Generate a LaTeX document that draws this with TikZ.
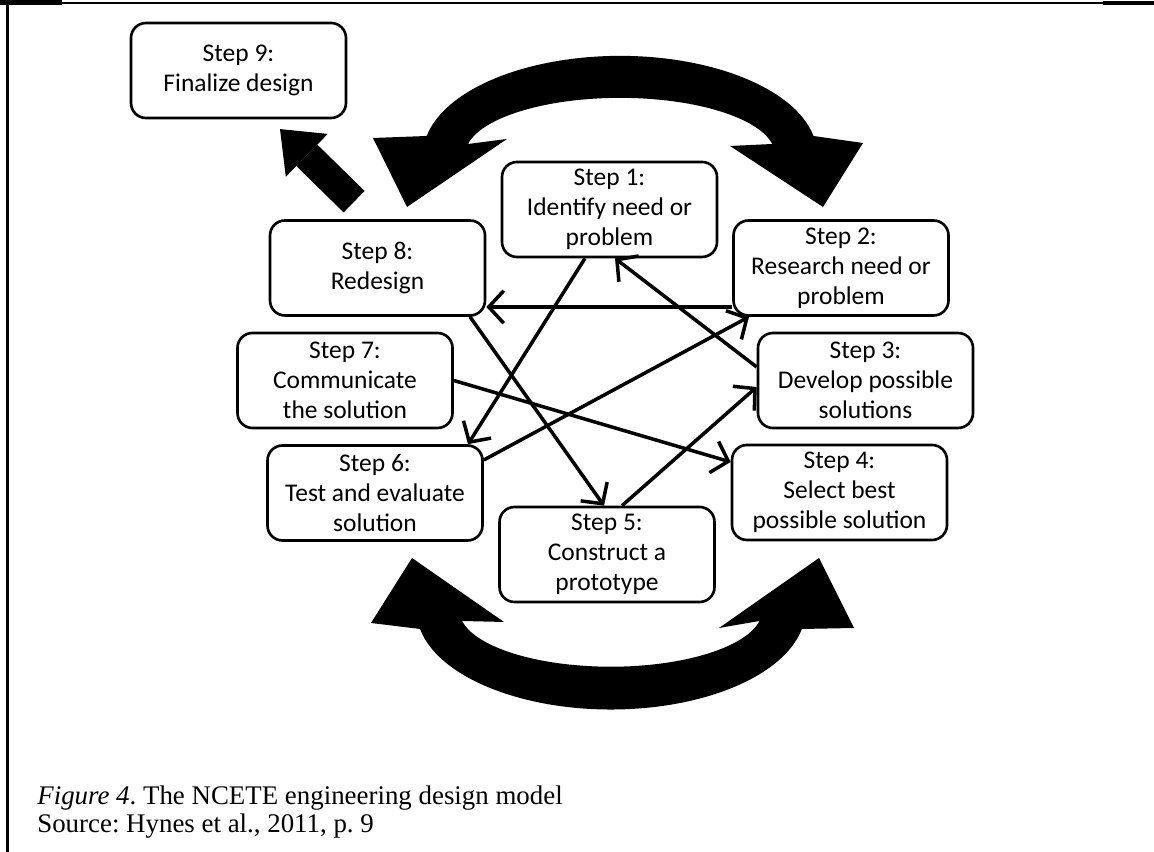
\documentclass[tikz,border=0pt]{standalone}
\usepackage{fontspec}
\setmainfont{Carlito}
\newfontfamily\capfont{Liberation Serif}
\usepackage{tikz}
\usetikzlibrary{arrows.meta}
\frenchspacing
\tikzstyle{stepbox}=[rectangle, draw=black, line width=1.5pt, rounded corners=0.3cm, fill=white,
minimum width=4.3cm, minimum height=1.9cm, inner sep=0pt, align=center,
font=\fontsize{14.5}{17}\selectfont]
\tikzstyle{link}=[line width=2pt, -{Straight Barb[length=3mm,width=6.5mm]}]
\tikzstyle{bigarrow}=[line width=0.6cm, -{Triangle[length=0.75cm,width=1.2cm,line width=0pt]}]
\tikzstyle{bandarrow}=[fill=black]

\begin{document}
\begin{tikzpicture}
            \useasboundingbox (0,0) rectangle (23.08,17.04);
            % page frame
            \draw[line width=0.9pt] (0,16.98) -- (23.08,16.98);
            \draw[line width=2.6pt] (0,16.99) -- (1.24,16.99);
            \draw[line width=2.6pt] (22.06,16.98) -- (23.08,16.98);
            \draw[line width=1.6pt] (0.15,17.04) -- (0.15,0);

            \node (9)[stepbox] at (4.77,15.63) {Step 9:\\Finalize design};
            \node (8)[stepbox] at (7.55,11.68) {Step 8:\\Redesign};
            \node (1)[stepbox] at (12.19,12.85) {Step 1:\\Identify need or\\problem};
            \node (2)[stepbox] at (16.82,11.68) {Step 2:\\Research need or\\problem};
            \node (3)[stepbox] at (17.31,9.43) {Step 3:\\Develop possible\\solutions};
            \node (7)[stepbox] at (6.90,9.43) {Step 7:\\Communicate\\the solution};
            \node (6)[stepbox] at (7.50,7.18) {Step 6:\\Test and evaluate\\solution};
            \node (4)[stepbox] at (16.79,7.19) {Step 4:\\Select best\\possible solution};
            \node (5)[stepbox] at (12.14,5.95) {Step 5:\\Construct a\\prototype};

            \draw [link] ([xshift=-0.49cm]1.south) -- ([xshift=1.86cm]6.north);
            \draw [link] ([yshift=-0.78cm]2.west) -- ([yshift=-0.78cm]8.east);
            \draw [link] ([yshift=0.27cm]3.west) -- ([xshift=0.11cm]1.south);
            \draw [link] ([xshift=0.3cm]5.north) -- ([yshift=-0.13cm]3.west);
            \draw [link] ([yshift=0.66cm]6.east) -- ([xshift=-1.84cm]2.south);
            \draw [link] (7.east) -- ([yshift=0.61cm]4.west);
            \draw [link] ([xshift=1.85cm]8.south) -- ([xshift=-0.06cm]5.north);

            \draw [bigarrow, shorten <=0.5cm, shorten >=0.28cm] ([xshift=-0.11cm]8.north) -- ([xshift=0.63cm]9.south);

            % top and bottom swooshes
            \path [bandarrow] (16.27,14.32) arc[start angle=11, end angle=169, x radius=3.94, y radius=1.98]
                -- (7.46,14.28) -- (8.14,12.90) -- (10.14,14.26) -- (9.36,14.16)
                arc[start angle=169, end angle=11, x radius=3.10, y radius=1.14]
                -- (14.60,14.12) -- (16.46,12.90) -- (17.26,14.18) -- cycle;
            \path [bandarrow] (8.40,4.46) arc[start angle=191, end angle=349, x radius=3.89, y radius=1.99]
                -- (17.08,4.48) -- (16.38,5.88) -- (14.38,4.48) -- (15.19,4.62)
                arc[start angle=349, end angle=191, x radius=3.03, y radius=1.13]
                -- (10.08,4.60) -- (8.24,5.88) -- (7.42,4.58) -- cycle;

            \node (cap)[anchor=west, inner sep=0pt, align=left, font=\capfont\fontsize{15.3}{15.9}\selectfont] at (0.74,0.80)
                {\textit{Figure 4}. The NCETE engineering design model\\Source: Hynes et al., 2011, p. 9};
        \end{tikzpicture}
\end{document}
